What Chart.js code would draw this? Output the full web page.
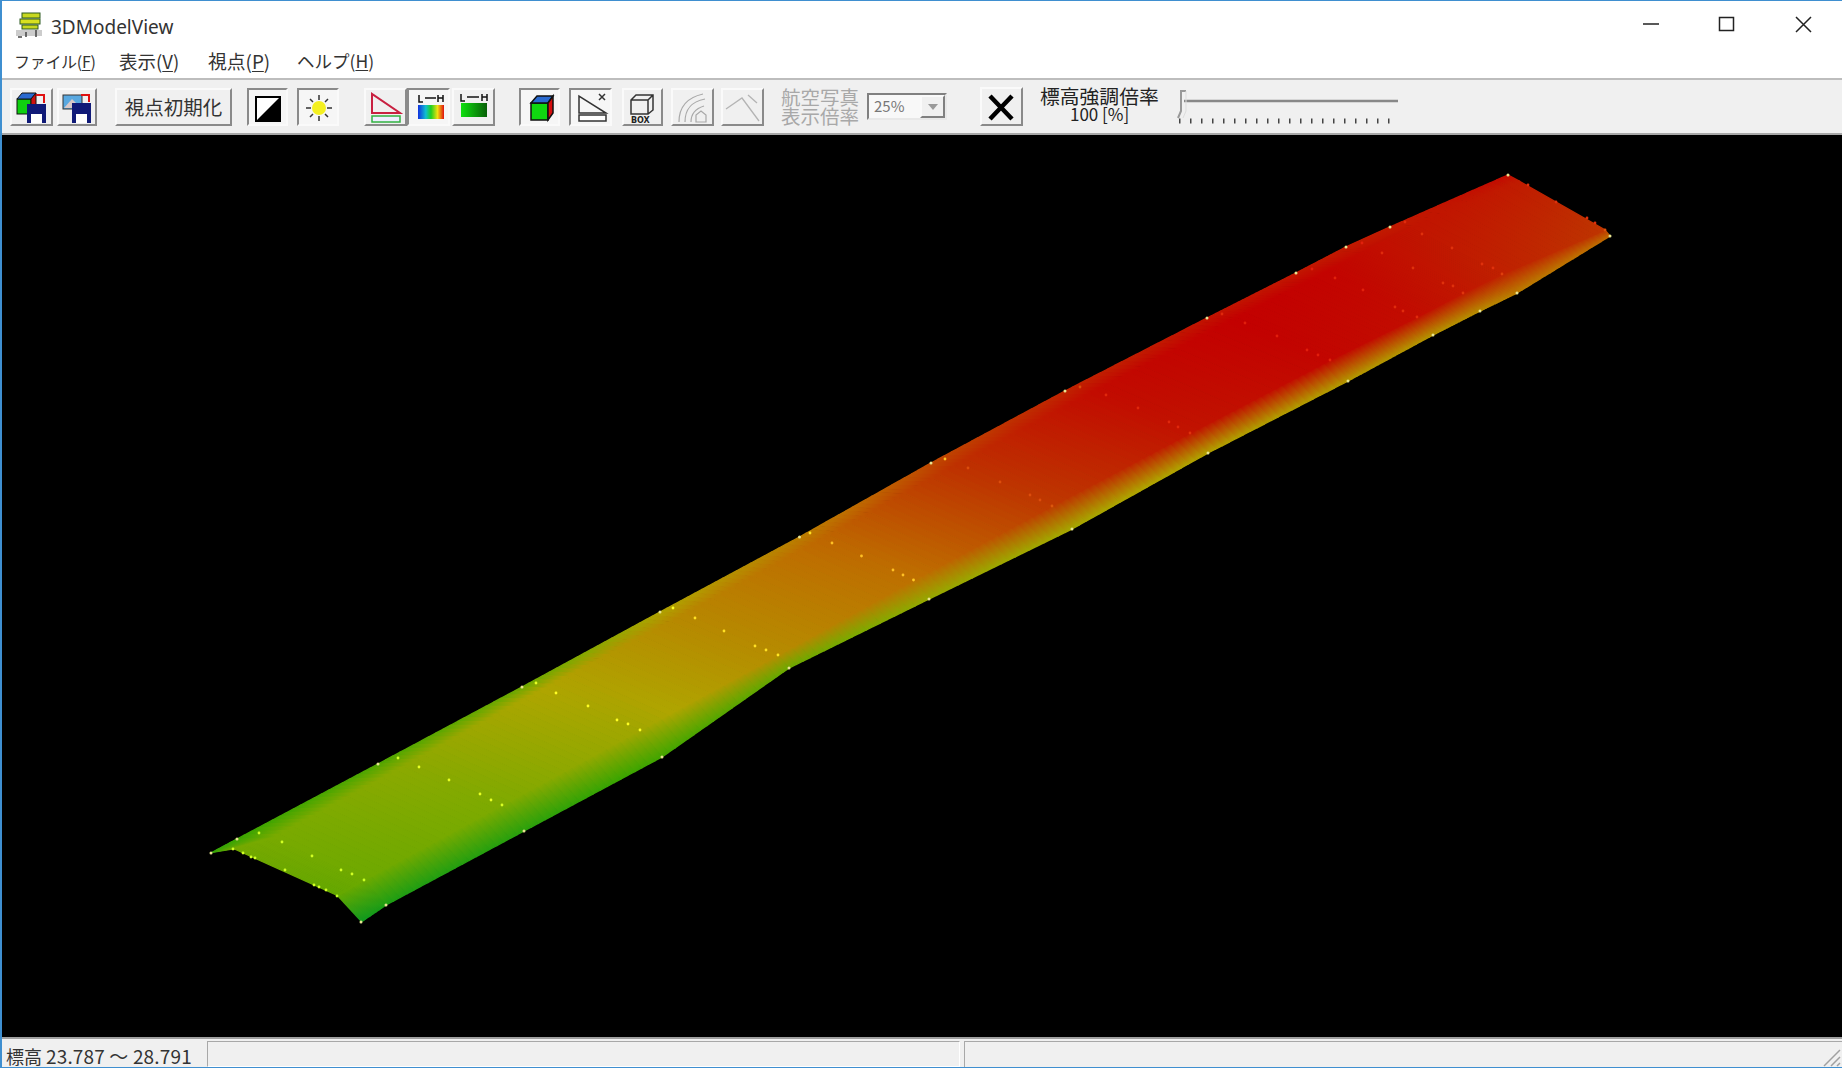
<!DOCTYPE html>
<html lang="ja">
<head>
<meta charset="utf-8">
<title>3DModelView</title>
<script src="https://cdn.jsdelivr.net/npm/chart.js@4/dist/chart.umd.min.js"></script>
<style>
  html, body { margin: 0; padding: 0; background: #fff; overflow: hidden; }
  #win { position: relative; width: 1842px; height: 1068px; background: #fff; overflow: hidden; filter: blur(.45px);
         font-family: "Noto Sans CJK JP", "Noto Sans", sans-serif; color: #333; }
  #win > * { position: absolute; }
  .t { white-space: nowrap; line-height: 1; }
  .btn { box-sizing: border-box; top: 88px; height: 38px; background: #f0f0f0;
         border: 2px solid; border-color: #fafafa #8a8a8a #8a8a8a #fafafa; }
  .on { border-color: #8a8a8a #fafafa #fafafa #8a8a8a; background: #f6f6f6; }
  .btn svg { position: absolute; left: -2px; top: -2px; }
  u { text-decoration-thickness: 1px; text-underline-offset: 2px; }
</style>
</head>
<body>
<div id="win">
  <div style="left:0;top:78px;width:1842px;height:57px;background:#f0f0f0;border-top:2px solid #bdbdbd;box-sizing:border-box"></div>
  <div style="left:0;top:133px;width:1842px;height:2px;background:#a8a8a8"></div>

  <svg style="left:14px;top:10px" width="32" height="28">
    <rect x="8" y="3" width="18" height="5" fill="#c8d820" stroke="#2c5a20"/>
    <rect x="6" y="9" width="20" height="5" fill="#d8e020" stroke="#2c5a20"/>
    <rect x="8" y="15" width="16" height="4" fill="#c8d820" stroke="#2c5a20"/>
    <rect x="2" y="20" width="26" height="6" fill="#ccc"/>
    <path d="M4 27h4M12 22v5M22 20v7" stroke="#444" stroke-width="1.5"/>
  </svg>
  <div class="t" style="left:51px;top:14px;font:19px 'Noto Sans',sans-serif">3DModelView</div>
  <svg style="left:1636px;top:14px" width="184" height="20" fill="none" stroke="#222" stroke-width="1.5">
    <path d="M7 10h16"/>
    <rect x="83.5" y="3.5" width="14" height="13"/>
    <path d="M160 3l15 15M175 3l-15 15"/>
  </svg>

  <div class="t" style="left:14px;top:53px;font-size:16px;letter-spacing:-.3px">ファイル(<u>F</u>)</div>
  <div class="t" style="left:119px;top:52px;font-size:18.5px">表示(<u>V</u>)</div>
  <div class="t" style="left:208px;top:52px;font-size:18.8px">視点(<u>P</u>)</div>
  <div class="t" style="left:297px;top:52px;font-size:17.5px">ヘルプ(<u>H</u>)</div>

  <div class="btn" style="left:10px;width:43px"><svg width="43" height="38">
    <rect x="7" y="11" width="14" height="15" fill="#10d010" stroke="#111"/><path d="M7 11l5-6h14l-5 6z" fill="#2a6ad0" stroke="#111"/><path d="M21 11l5-6v15l-5 6z" fill="#d01010" stroke="#111"/>
    <rect x="17" y="16" width="19" height="19" fill="#101a78"/><rect x="21" y="26" width="11" height="9" fill="#fff"/><path d="M26 7h8v8" fill="none" stroke="#e01010" stroke-width="2"/>
  </svg></div>
  <div class="btn" style="left:57px;width:40px"><svg width="40" height="38">
    <rect x="6" y="7" width="19" height="14" fill="#58a8e0" stroke="#333"/><path d="M7 20l8-9 9 9z" fill="#d8c8c8"/>
    <rect x="15" y="15" width="19" height="20" fill="#101a78"/><rect x="19" y="26" width="11" height="9" fill="#fff"/><path d="M24 7h8v7" fill="none" stroke="#e01010" stroke-width="2"/>
  </svg></div>
  <div class="btn t" style="left:115px;width:117px;font-size:19.5px;line-height:33px;text-align:center">視点初期化</div>
  <div class="btn on" style="left:247px;width:41px"><svg width="41" height="38">
    <rect x="9" y="9" width="24" height="24" fill="#fff" stroke="#000" stroke-width="2"/><path d="M33 9v24h-24z" fill="#000"/>
  </svg></div>
  <div class="btn on" style="left:297px;width:42px"><svg width="42" height="38">
    <circle cx="22" cy="20" r="7" fill="#f4f020"/><path d="M22 7v5M22 28v5M9 20h5M30 20h5M13 11l3 3M31 11l-3 3M13 29l3-3M31 29l-3-3" stroke="#333" stroke-width="1.5"/>
  </svg></div>
  <div class="btn" style="left:364px;width:43px"><svg width="43" height="38">
    <path d="M8 6v19h28z" fill="none" stroke="#c82040" stroke-width="2"/><rect x="8" y="28" width="28" height="6" fill="#eef" stroke="#30b040" stroke-width="1.5"/>
  </svg></div>
  <div class="btn on" style="left:407px;width:43px"><svg width="43" height="38">
    <defs><linearGradient id="rb"><stop offset="0" stop-color="#1030e0"/><stop offset=".3" stop-color="#10c0d0"/><stop offset=".5" stop-color="#20d020"/><stop offset=".75" stop-color="#f0e010"/><stop offset="1" stop-color="#e01010"/></linearGradient>
    <linearGradient id="gb"><stop offset="0" stop-color="#10e010"/><stop offset="1" stop-color="#086008"/></linearGradient></defs>
    <path d="M12 7v7h4M31 7v7M36 7v7M31 10h5M18 10h11" fill="none" stroke="#111" stroke-width="1.5"/>
    <rect x="11" y="17" width="26" height="14" fill="url(#rb)"/>
  </svg></div>
  <div class="btn" style="left:452px;width:43px"><svg width="43" height="38">
    <path d="M9 6v7h4M30 6v7M35 6v7M30 9h5M15 9h12" fill="none" stroke="#111" stroke-width="1.5"/>
    <rect x="9" y="15" width="26" height="14" fill="url(#gb)"/>
  </svg></div>
  <div class="btn on" style="left:519px;width:41px"><svg width="41" height="38">
    <rect x="12" y="15" width="17" height="17" fill="#10d810" stroke="#111" stroke-width="1.5"/><path d="M12 15l6-7h16l-5 7z" fill="#2a6ad0" stroke="#111" stroke-width="1.5"/><path d="M29 15l5-7v17l-5 7z" fill="#d81010" stroke="#111" stroke-width="1.5"/>
  </svg></div>
  <div class="btn on" style="left:569px;width:43px"><svg width="43" height="38">
    <path d="M10 8v17h27L10 8zM30 6l6 6M36 6l-6 6" fill="none" stroke="#333" stroke-width="1.5"/><rect x="10" y="27" width="27" height="6" fill="#fff" stroke="#333" stroke-width="1.5"/>
  </svg></div>
  <div class="btn" style="left:622px;width:41px"><svg width="41" height="38">
    <path d="M9 12l5-5h17v15l-5 4H9zM9 12h17v14M26 12l5-5" fill="none" stroke="#333" stroke-width="1.5"/>
    <text x="9" y="35" font-family="DejaVu Sans" font-size="8" font-weight="bold" fill="#222">BOX</text>
  </svg></div>
  <div class="btn" style="left:671px;width:43px"><svg width="43" height="38" fill="none" stroke="#a8a8a8" stroke-width="1.2">
    <path d="M8 34c0-14 6-24 24-28M14 34c0-12 5-20 20-23M20 34c0-7 3-13 13-16"/><path d="M25 34v-7l5-4 5 4v7z"/>
  </svg></div>
  <div class="btn" style="left:721px;width:43px"><svg width="43" height="38" fill="none" stroke="#b4b4b4" stroke-width="1.3">
    <path d="M5 21l16-11 17 23M27 7l9 8"/>
  </svg></div>

  <div class="t" style="left:781px;top:87px;font-size:19.5px;color:#a8a8a8">航空写真</div>
  <div class="t" style="left:781px;top:106px;font-size:19.5px;color:#a8a8a8">表示倍率</div>
  <div style="left:867px;top:93px;width:80px;height:27px;box-sizing:border-box;background:#f8f8f8;border:2px solid;border-color:#808080 #e8e8e8 #e8e8e8 #808080"></div>
  <div class="t" style="left:874px;top:98px;font-size:15px;color:#777">25%</div>
  <div style="left:920px;top:95px;width:25px;height:23px;box-sizing:border-box;background:#f0f0f0;border:2px solid;border-color:#fafafa #808080 #808080 #fafafa"></div>
  <svg style="left:927px;top:103px" width="12" height="8"><path d="M1 1h10l-5 6z" fill="#999"/></svg>
  <div class="btn" style="left:980px;top:87px;width:43px;height:39px"><svg width="43" height="39">
    <path d="M10 9l22 23M32 9l-22 23" stroke="#000" stroke-width="4.5"/>
  </svg></div>
  <div class="t" style="left:1040px;top:86px;font-size:19.8px;color:#222">標高強調倍率</div>
  <div class="t" style="left:1070px;top:105px;font-size:17px;color:#222">100 [%]</div>
  <svg style="left:1176px;top:88px" width="226" height="40">
    <path d="M8 13H222" stroke="#888" stroke-width="2.5"/>
    <path d="M10 3H5v20l-3 7" fill="none" stroke="#999" stroke-width="2"/>
    <path d="M10 3v20l-3 7" fill="none" stroke="#ddd" stroke-width="1"/>
    <path d="M3 33h214" stroke="#444" stroke-width="5" stroke-dasharray="1.5 9.5"/>
  </svg>

  <canvas id="plot" width="1840" height="902" style="left:2px;top:135px;width:1840px;height:902px;background:#000;filter:blur(.7px)"></canvas>

  <div style="left:0;top:1037px;width:1842px;height:31px;background:#f0f0f0"></div>
  <div style="left:0;top:1037px;width:1842px;height:2px;background:#a0a0a0"></div>
  <div style="left:207px;top:1041px;width:753px;height:26px;box-sizing:border-box;border:1px solid;border-color:#a8a8a8 #fff #fff #a8a8a8"></div>
  <div style="left:964px;top:1041px;width:878px;height:26px;box-sizing:border-box;border-left:1px solid #a8a8a8;border-top:1px solid #a8a8a8"></div>
  <div class="t" style="left:6px;top:1046px;font-size:18px;color:#333">標高 <span style="font-size:19px;letter-spacing:.15px">23.787 〜 28.791</span></div>
  <svg style="left:1820px;top:1046px" width="22" height="22"><path d="M20 4L4 20M20 11l-9 9M20 17l-3 3" stroke="#a0a0a0" stroke-width="1.5"/></svg>

  <div style="left:0;top:0;width:2px;height:1068px;background:#3f8fd0"></div>
  <div style="left:0;top:0;width:1842px;height:1px;background:#3f8fd0"></div>
  <div style="left:0;top:1067px;width:1842px;height:1px;background:#3f8fd0"></div>
</div>

<script>
// survey sections along the road, first to last
const topX = [211, 237, 378, 522, 660, 799.5, 931, 1065, 1207, 1296, 1346, 1390, 1508];
const topY = [853, 839, 764, 687, 612, 537, 463, 391, 318, 273, 247, 227, 175];
const innerX = [233, 272, 410, 545, 685, 822, 960, 1095, 1233, 1325, 1372, 1412, 1519];
const innerY = [849, 838, 763, 688, 614, 539, 463, 391, 320, 273, 248, 228, 181];
const creaseX = [337, 364, 502, 640, 778, 913.5, 1052, 1190, 1330, 1417, 1463, 1502, 1605];
const creaseY = [896, 880, 805, 730, 655, 580, 506, 433, 360, 317, 293, 274, 230];
const footX = [361, 386, 524, 662, 789, 929, 1072, 1208, 1348, 1433, 1480, 1517, 1610];
const footY = [922, 905, 831, 757, 668, 599, 529, 453, 381, 335, 311, 293, 236];

// elevation [m] on each of those lines
const elevTop = [24.60, 24.75, 25.05, 25.50, 26.30, 27.00, 27.75, 28.25, 28.50, 28.45, 28.40, 28.40, 28.65];
const elevSurface = [25.65, 25.72, 25.95, 26.30, 26.85, 27.39, 28.09, 28.64, 28.79, 28.75, 28.60, 28.50, 28.40];
const elevCrease = [25.40, 25.55, 25.80, 26.15, 26.75, 27.25, 27.95, 28.50, 28.70, 28.60, 28.45, 28.30, 28.00];
const elevFoot = [24.04, 24.29, 24.49, 24.89, 25.54, 26.04, 26.19, 26.39, 26.54, 26.64, 26.79, 27.04, 27.39];

// points on the road surface between the inner line and the crease
const dotX = [233, 259, 398, 536, 673, 810, 945, 1080, 1222, 1312, 1362, 1405,
  255, 282, 419, 556, 695, 832, 968, 1106, 1245, 1335, 1382, 1422, 1528,
  285, 312, 449, 588, 724, 861.5, 1000, 1138, 1277, 1363, 1413, 1452, 1556,
  314, 341, 480, 617, 755, 893, 1030, 1169, 1307, 1395, 1443, 1482, 1587,
  326, 352, 491, 628, 766, 903, 1040, 1178, 1318, 1403, 1453, 1493, 1595,
  243, 251, 319];
const dotY = [849, 833, 758, 683, 608, 533, 459, 387, 314, 269, 243, 222,
  858, 842, 767, 693, 618, 543, 468, 395, 323, 278, 253, 234, 185,
  870, 856, 780, 706, 631, 556, 482, 408, 336, 290, 268, 248, 202,
  885, 870, 794, 720, 646, 570, 495, 422, 350, 307, 283, 264, 218,
  890, 874, 800, 724, 650, 575, 500, 427, 355, 311, 286, 268, 223,
  853, 857, 887];

// elevation colour ramp of the viewer
const rampElev = [23.787, 24.79, 25.79, 26.29, 27.29, 28.04, 28.791];
const rampR = [0, 60, 125, 175, 190, 190, 195];
const rampG = [150, 165, 170, 165, 110, 50, 0];
const rampB = [40, 0, 0, 0, 0, 0, 0];

const FACETS = 20;

function rampRgb(elev) {
  let i = 0;
  while (i < rampElev.length - 2 && elev > rampElev[i + 1]) i++;
  const k = Math.min(1, Math.max(0, (elev - rampElev[i]) / (rampElev[i + 1] - rampElev[i])));
  const mix = (a) => a[i] + (a[i + 1] - a[i]) * k;
  return [mix(rampR), mix(rampG), mix(rampB)];
}
const css = (c) => `rgb(${Math.round(c[0])},${Math.round(c[1])},${Math.round(c[2])})`;
const mid = (a, i, k) => a[i] + (a[i + 1] - a[i]) * k;

// fill of one facet: colour runs across the band, in canvas pixels
function shade(ctx) {
  const { chart, dataset } = ctx;
  const { x, y } = chart.scales;
  const x0 = x.getPixelForValue(dataset.from[0]), y0 = y.getPixelForValue(dataset.from[1]);
  const x1 = x.getPixelForValue(dataset.to[0]), y1 = y.getPixelForValue(dataset.to[1]);
  // scales have no size yet on the first pass
  if (![x0, y0, x1, y1].every(Number.isFinite)) return dataset.colors[0];
  const g = chart.ctx.createLinearGradient(x0, y0, x1, y1);
  g.addColorStop(0, dataset.colors[0]);
  g.addColorStop(1, dataset.colors[1]);
  return g;
}

// one shaded band between two lines, split into thin facets like the viewer's smooth shading
function bandDatasets(ax, ay, bx, by, elevA, elevB) {
  const out = [];
  for (let i = 0; i < ax.length - 1; i++) {
    for (let f = 0; f < FACETS; f++) {
      const k0 = f / FACETS, k1 = (f + 1) / FACETS, kc = (f + 0.5) / FACETS;
      out.push({
        data: [
          { x: mid(ax, i, k0), y: mid(ay, i, k0) },
          { x: mid(ax, i, k1), y: mid(ay, i, k1) },
          { x: mid(bx, i, k1), y: mid(by, i, k1) },
          { x: mid(bx, i, k0), y: mid(by, i, k0) },
        ],
        from: [mid(ax, i, kc), mid(ay, i, kc)],
        to: [mid(bx, i, kc), mid(by, i, kc)],
        colors: [css(rampRgb(mid(elevA, i, kc))), css(rampRgb(mid(elevB, i, kc)))],
        showLine: true,
        fill: 'shape',
        tension: 0,
        pointRadius: 0,
        borderWidth: 1.4,
        backgroundColor: shade,
        borderColor: shade,
      });
    }
  }
  return out;
}

// surface dots take a lighter tone of the colour under them
function dotTone(c) {
  const lift = c[1] < 60 ? 30 : 90;
  return css([Math.min(255, c[0] + lift), Math.min(255, c[1] + lift), c[2] + lift * 0.4]);
}

function dotColor(ctx) {
  const px = dotX[ctx.dataIndex];
  let s = 0;
  while (s < topX.length - 2 && px > innerX[s + 1]) s++;
  return dotTone(rampRgb(elevSurface[s]));
}

// the first dataset is painted last, so the dots go in front
const datasets = [
  {
    data: dotX.map((x, i) => ({ x, y: dotY[i] })),
    showLine: false,
    pointRadius: 1.4,
    pointBorderWidth: 0,
    pointBackgroundColor: dotColor,
  },
  {
    data: topX.concat(footX).map((x, i) => ({ x, y: topY.concat(footY)[i] })),
    showLine: false,
    pointRadius: 1.5,
    pointBorderWidth: 0,
    pointBackgroundColor: '#e8e490',
  },
  {
    data: creaseX.map((x, i) => ({ x, y: creaseY[i] })),
    showLine: false,
    pointRadius: 1.4,
    pointBorderWidth: 0,
    pointBackgroundColor: (ctx) => dotTone(rampRgb(elevCrease[ctx.dataIndex])),
  },
  ...bandDatasets(topX, topY, innerX, innerY, elevTop, elevSurface),
  ...bandDatasets(innerX, innerY, creaseX, creaseY, elevSurface, elevCrease),
  ...bandDatasets(creaseX, creaseY, footX, footY, elevCrease, elevFoot),
];

new Chart(document.getElementById('plot'), {
  type: 'scatter',
  data: { datasets },
  options: {
    responsive: false,
    animation: false,
    layout: { padding: 0, autoPadding: false },
    plugins: { legend: { display: false }, tooltip: { enabled: false } },
    scales: {
      x: { type: 'linear', min: 2, max: 1842, display: false },
      y: { type: 'linear', min: 135, max: 1037, reverse: true, display: false },
    },
  },
});
</script>
</body>
</html>
